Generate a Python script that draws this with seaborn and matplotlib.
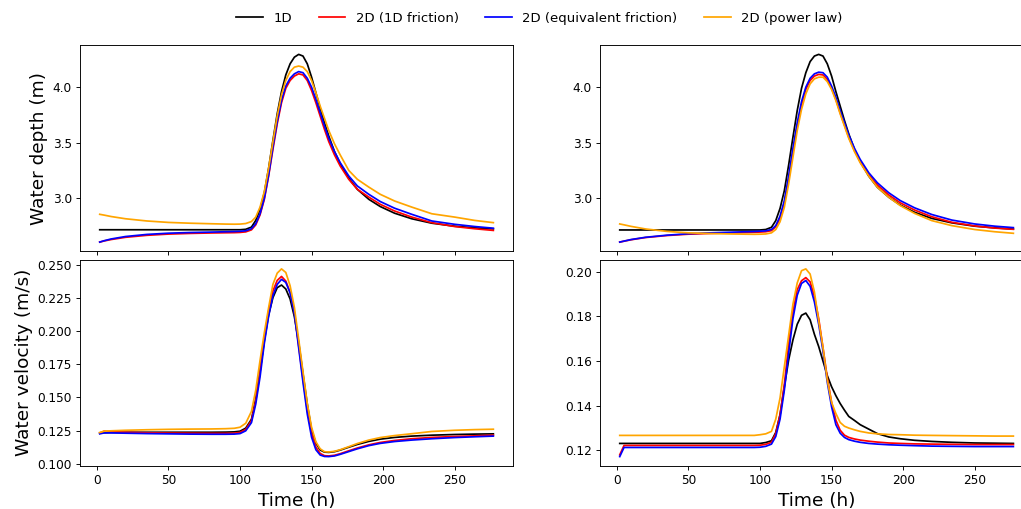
import matplotlib
matplotlib.use("Agg")
import matplotlib.pyplot as plt
from matplotlib.ticker import MultipleLocator
import seaborn as sns
import pandas as pd

# time axis (h), shared by every series
time_h = [2, 5, 10, 20, 35, 50, 65, 80, 90, 96,
          100, 104, 108, 111, 114, 117, 120, 123, 126, 129,
          132, 135, 138, 141, 144, 147, 150, 153, 156, 159,
          162, 166, 170, 176, 182, 190, 198, 208, 220, 234,
          250, 264, 277]

# water depth (m), left panel
depth_a_1d = [2.716, 2.716, 2.716, 2.716, 2.716, 2.716, 2.716, 2.716, 2.716, 2.716,
              2.716, 2.72, 2.74, 2.80, 2.90, 3.05, 3.27, 3.52, 3.76, 3.96,
              4.11, 4.21, 4.27, 4.295, 4.28, 4.21, 4.09, 3.95, 3.81, 3.68,
              3.56, 3.42, 3.31, 3.18, 3.08, 2.99, 2.925, 2.865, 2.815, 2.775,
              2.748, 2.733, 2.724]
depth_a_2d_1dfric = [2.605, 2.615, 2.628, 2.648, 2.666, 2.677, 2.683, 2.687, 2.689, 2.69,
                     2.692, 2.697, 2.715, 2.76, 2.85, 2.99, 3.20, 3.44, 3.67, 3.86,
                     3.99, 4.06, 4.10, 4.12, 4.11, 4.06, 3.97, 3.86, 3.74, 3.62,
                     3.51, 3.39, 3.29, 3.17, 3.08, 3.01, 2.945, 2.885, 2.83, 2.78,
                     2.745, 2.725, 2.71]
depth_a_2d_equiv = [2.605, 2.617, 2.633, 2.655, 2.674, 2.685, 2.691, 2.695, 2.698, 2.70,
                    2.702, 2.707, 2.725, 2.77, 2.86, 3.00, 3.21, 3.46, 3.69, 3.88,
                    4.01, 4.08, 4.12, 4.14, 4.13, 4.08, 4.00, 3.89, 3.77, 3.65,
                    3.54, 3.42, 3.32, 3.20, 3.11, 3.035, 2.97, 2.91, 2.855, 2.795,
                    2.765, 2.745, 2.73]
depth_a_2d_power = [2.855, 2.848, 2.835, 2.815, 2.795, 2.782, 2.775, 2.77, 2.767, 2.766,
                    2.767, 2.772, 2.79, 2.83, 2.92, 3.06, 3.27, 3.51, 3.74, 3.93,
                    4.06, 4.14, 4.18, 4.19, 4.18, 4.14, 4.06, 3.95, 3.83, 3.72,
                    3.61, 3.49, 3.39, 3.25, 3.17, 3.10, 3.035, 2.975, 2.92, 2.86,
                    2.83, 2.80, 2.78]

# water depth (m), right panel
depth_b_1d = [2.716, 2.716, 2.716, 2.716, 2.716, 2.716, 2.716, 2.716, 2.716, 2.716,
              2.716, 2.72, 2.74, 2.80, 2.91, 3.07, 3.30, 3.55, 3.79, 3.99,
              4.13, 4.23, 4.28, 4.295, 4.28, 4.21, 4.10, 3.96, 3.83, 3.70,
              3.58, 3.44, 3.33, 3.20, 3.10, 3.01, 2.94, 2.875, 2.82, 2.78,
              2.75, 2.735, 2.724]
depth_b_2d_1dfric = [2.607, 2.615, 2.628, 2.648, 2.666, 2.678, 2.685, 2.69, 2.693, 2.695,
                     2.697, 2.70, 2.71, 2.745, 2.82, 2.96, 3.17, 3.42, 3.65, 3.84,
                     3.98, 4.06, 4.10, 4.115, 4.11, 4.07, 3.99, 3.89, 3.77, 3.66,
                     3.55, 3.43, 3.33, 3.21, 3.12, 3.03, 2.96, 2.895, 2.835, 2.785,
                     2.752, 2.733, 2.722]
depth_b_2d_equiv = [2.607, 2.616, 2.63, 2.65, 2.669, 2.682, 2.69, 2.696, 2.70, 2.702,
                    2.705, 2.708, 2.72, 2.755, 2.84, 2.98, 3.20, 3.45, 3.68, 3.87,
                    4.00, 4.08, 4.12, 4.135, 4.13, 4.09, 4.01, 3.91, 3.79, 3.68,
                    3.57, 3.45, 3.35, 3.23, 3.14, 3.05, 2.98, 2.915, 2.855, 2.805,
                    2.77, 2.75, 2.737]
depth_b_2d_power = [2.77, 2.762, 2.748, 2.725, 2.703, 2.69, 2.684, 2.68, 2.678, 2.677,
                    2.678, 2.68, 2.69, 2.72, 2.79, 2.92, 3.13, 3.37, 3.61, 3.80,
                    3.94, 4.03, 4.075, 4.09, 4.09, 4.05, 3.98, 3.88, 3.76, 3.65,
                    3.54, 3.42, 3.32, 3.20, 3.10, 3.01, 2.935, 2.865, 2.80, 2.755,
                    2.72, 2.70, 2.686]

# water velocity (m/s), left panel
vel_a_1d = [0.123, 0.1234, 0.1236, 0.1237, 0.1237, 0.1237, 0.1237, 0.1237, 0.1238, 0.124,
            0.1245, 0.1268, 0.1335, 0.149, 0.170, 0.193, 0.2125, 0.2255, 0.233, 0.235,
            0.232, 0.2245, 0.211, 0.1915, 0.168, 0.145, 0.1255, 0.1155, 0.1103, 0.1087,
            0.1085, 0.109, 0.1102, 0.1124, 0.1145, 0.1168, 0.1185, 0.1198, 0.1208, 0.1215,
            0.122, 0.1223, 0.1225]
vel_a_2d_1dfric = [0.1232, 0.1245, 0.1242, 0.1237, 0.1233, 0.1231, 0.123, 0.1229, 0.1229, 0.123,
                   0.1236, 0.1258, 0.1325, 0.1475, 0.169, 0.195, 0.2155, 0.2305, 0.2385, 0.2415,
                   0.238, 0.2295, 0.2145, 0.189, 0.164, 0.1405, 0.1228, 0.1125, 0.1077, 0.106,
                   0.1058, 0.1063, 0.1075, 0.1097, 0.1118, 0.1142, 0.116, 0.1175, 0.1188, 0.1198,
                   0.1205, 0.121, 0.1215]
vel_a_2d_equiv = [0.1225, 0.1232, 0.1232, 0.123, 0.1227, 0.1225, 0.1223, 0.1222, 0.1222, 0.1223,
                  0.1227, 0.1248, 0.131, 0.145, 0.1655, 0.191, 0.2115, 0.227, 0.2355, 0.2393,
                  0.237, 0.229, 0.2135, 0.1875, 0.1615, 0.1375, 0.12, 0.1105, 0.1065, 0.1054,
                  0.1053, 0.1058, 0.107, 0.1091, 0.1112, 0.1136, 0.1153, 0.1167, 0.1178, 0.1188,
                  0.1197, 0.1203, 0.1208]
vel_a_2d_power = [0.1235, 0.1245, 0.1248, 0.1252, 0.1256, 0.1259, 0.1261, 0.1262, 0.1264, 0.1267,
                  0.1275, 0.1305, 0.1395, 0.1555, 0.178, 0.199, 0.218, 0.2355, 0.244, 0.2472,
                  0.2445, 0.2345, 0.218, 0.194, 0.1695, 0.1455, 0.1275, 0.1165, 0.1112, 0.109,
                  0.1088, 0.1093, 0.1105, 0.1128, 0.1152, 0.1178, 0.1197, 0.1212, 0.1226, 0.1243,
                  0.1252, 0.1257, 0.126]

# water velocity (m/s), right panel
vel_b_1d = [0.1231, 0.1231, 0.1231, 0.1231, 0.1231, 0.1231, 0.1231, 0.1231, 0.1231, 0.1231,
            0.1231, 0.1235, 0.1243, 0.128, 0.136, 0.1485, 0.1605, 0.1695, 0.1765, 0.1805,
            0.1815, 0.1785, 0.172, 0.1665, 0.160, 0.1535, 0.1485, 0.1445, 0.141, 0.138,
            0.1352, 0.1334, 0.1315, 0.1295, 0.1275, 0.126, 0.1252, 0.1245, 0.124, 0.1236,
            0.1233, 0.1232, 0.1231]
vel_b_2d_1dfric = [0.118, 0.1222, 0.1222, 0.1222, 0.1222, 0.1222, 0.1222, 0.1222, 0.1222, 0.1222,
                   0.1223, 0.1227, 0.1236, 0.1275, 0.136, 0.1495, 0.1675, 0.182, 0.192, 0.196,
                   0.1974, 0.1955, 0.189, 0.179, 0.166, 0.1525, 0.1415, 0.1335, 0.129, 0.1268,
                   0.1258, 0.1251, 0.1246, 0.1241, 0.1237, 0.1233, 0.1231, 0.1229, 0.1228, 0.1227,
                   0.1226, 0.1226, 0.1226]
vel_b_2d_equiv = [0.1172, 0.1213, 0.1213, 0.1213, 0.1213, 0.1213, 0.1213, 0.1213, 0.1213, 0.1213,
                  0.1214, 0.1218, 0.1228, 0.1262, 0.134, 0.147, 0.1635, 0.179, 0.1895, 0.1948,
                  0.1961, 0.1935, 0.1865, 0.1765, 0.1645, 0.1505, 0.1395, 0.1315, 0.1277, 0.1258,
                  0.1248, 0.1241, 0.1236, 0.1231, 0.1228, 0.1225, 0.1223, 0.1221, 0.1219, 0.1218,
                  0.1217, 0.1217, 0.1217]
vel_b_2d_power = [0.1267, 0.1267, 0.1267, 0.1267, 0.1267, 0.1267, 0.1267, 0.1267, 0.1267, 0.1267,
                  0.127, 0.1274, 0.1285, 0.134, 0.1435, 0.1575, 0.1715, 0.1855, 0.195, 0.2005,
                  0.2013, 0.199, 0.191, 0.178, 0.166, 0.1515, 0.1415, 0.1365, 0.1325, 0.1308,
                  0.130, 0.1292, 0.1285, 0.1278, 0.1274, 0.1271, 0.127, 0.1268, 0.1267, 0.1266,
                  0.1265, 0.1264, 0.1264]

models = ["1D", "2D (1D friction)", "2D (equivalent friction)", "2D (power law)"]
colors = {"1D": "black", "2D (1D friction)": "red",
          "2D (equivalent friction)": "blue", "2D (power law)": "orange"}


def panel_frame(series):
    rows = []
    for model, values in zip(models, series):
        rows.append(pd.DataFrame({"time": time_h, "value": values, "model": model}))
    return pd.concat(rows, ignore_index=True)


panels = [
    (0, 0, [depth_a_1d, depth_a_2d_1dfric, depth_a_2d_equiv, depth_a_2d_power], 0.5),
    (0, 1, [depth_b_1d, depth_b_2d_1dfric, depth_b_2d_equiv, depth_b_2d_power], 0.5),
    (1, 0, [vel_a_1d, vel_a_2d_1dfric, vel_a_2d_equiv, vel_a_2d_power], 0.025),
    (1, 1, [vel_b_1d, vel_b_2d_1dfric, vel_b_2d_equiv, vel_b_2d_power], 0.02),
]

dpi = 83
fig, axes = plt.subplots(2, 2, figsize=(1021 / dpi, 509 / dpi), dpi=dpi, sharex=True)
fig.subplots_adjust(left=0.0784, right=1.0118, top=0.9116, bottom=0.0845,
                    wspace=0.201, hspace=0.039)

for r, c, series, step in panels:
    ax = axes[r, c]
    df = panel_frame(series)
    sns.lineplot(data=df, x="time", y="value", hue="model", hue_order=models,
                 palette=colors, linewidth=1.5, ax=ax, legend=(r == 0 and c == 0))
    ax.yaxis.set_major_locator(MultipleLocator(step))
    ax.tick_params(labelsize=10.5)
    ax.set_xlabel("")
    ax.set_ylabel("")

axes[0, 0].set_ylabel("Water depth (m)", fontsize=16)
axes[1, 0].set_ylabel("Water velocity (m/s)", fontsize=16)
axes[1, 0].set_xlabel("Time (h)", fontsize=16)
axes[1, 1].set_xlabel("Time (h)", fontsize=16)
axes[1, 0].xaxis.set_major_locator(MultipleLocator(50))

handles, labels = axes[0, 0].get_legend_handles_labels()
axes[0, 0].get_legend().remove()
fig.legend(handles, labels, loc="upper center", bbox_to_anchor=(0.5284, 1.0),
           ncol=4, frameon=False, fontsize=11.5)

fig.savefig("out.png", dpi=dpi)
